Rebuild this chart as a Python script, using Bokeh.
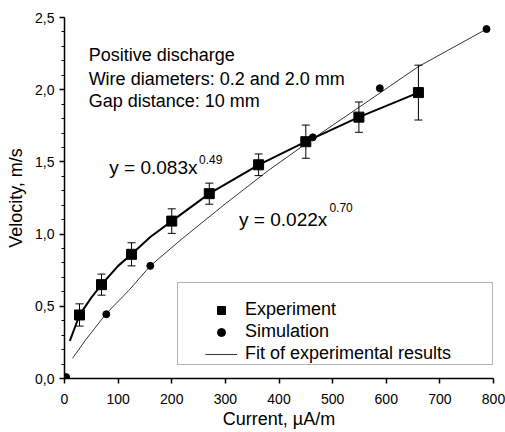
from bokeh.plotting import figure
from bokeh.models import (Range1d, FixedTicker, Label, Legend, LegendItem, Whisker,
                          TeeHead, ColumnDataSource, BoxAnnotation)
from bokeh.embed import file_html
from bokeh.resources import INLINE

# ---- data ----
exp_current = [28, 69, 125, 200, 270, 362, 450, 549, 660]
exp_velocity = [0.44, 0.65, 0.86, 1.09, 1.28, 1.48, 1.64, 1.81, 1.98]
exp_error = [0.077, 0.073, 0.08, 0.085, 0.073, 0.075, 0.115, 0.105, 0.19]

sim_current = [3, 78, 160, 463, 588, 787]
sim_velocity = [0.01, 0.445, 0.78, 1.67, 2.01, 2.42]

# curve through the experiment (y = 0.083x^0.49)
fit_exp_current = [10, 20, 28, 50, 69, 100, 125, 160, 200, 270, 362, 450, 549, 660]
fit_exp_velocity = [0.26, 0.36, 0.44, 0.56, 0.65, 0.78, 0.86, 0.98, 1.09, 1.28, 1.48, 1.64, 1.81, 1.98]

# thin fit line (y = 0.022x^0.70)
fit_thin_current = [15, 40, 78, 120, 160, 220, 300, 380, 463, 550, 660, 787]
fit_thin_velocity = [0.14, 0.27, 0.45, 0.61, 0.78, 0.97, 1.21, 1.44, 1.66, 1.88, 2.16, 2.42]

x_ticks = [0, 100, 200, 300, 400, 500, 600, 700, 800]
y_ticks = [0.0, 0.5, 1.0, 1.5, 2.0, 2.5]
y_tick_labels = ["0,0", "0,5", "1,0", "1,5", "2,0", "2,5"]
y_minor_ticks = [0.0, 0.1, 0.2, 0.3, 0.4, 0.5, 0.6, 0.7, 0.8, 0.9, 1.0, 1.1, 1.2, 1.3,
                 1.4, 1.5, 1.6, 1.7, 1.8, 1.9, 2.0, 2.1, 2.2, 2.3, 2.4, 2.5]

FONT = "Liberation Sans"

p = figure(width=505, height=432, output_backend="svg", toolbar_location=None,
           x_range=Range1d(0, 800), y_range=Range1d(0, 2.5),
           min_border_left=64, min_border_right=12, min_border_top=17, min_border_bottom=54)
p.outline_line_color = None
p.grid.visible = False
p.background_fill_color = "white"
p.border_fill_color = "white"

# axes
p.xaxis.ticker = FixedTicker(ticks=x_ticks)
p.yaxis.ticker = FixedTicker(ticks=y_ticks, minor_ticks=y_minor_ticks)
p.yaxis.major_label_overrides = {v: s for v, s in zip(y_ticks, y_tick_labels)}
p.xaxis.axis_label = "Current, µA/m"
p.yaxis.axis_label = "Velocity, m/s"
for ax in (p.xaxis, p.yaxis):
    ax.axis_line_width = 1.5
    ax.axis_line_color = "black"
    ax.major_tick_line_width = 1.5
    ax.major_tick_line_color = "black"
    ax.major_tick_in = 0
    ax.major_tick_out = 5
    ax.major_label_text_font = FONT
    ax.major_label_text_font_size = "14px"
    ax.major_label_text_color = "black"
    ax.axis_label_text_font = FONT
    ax.axis_label_text_font_size = "18px"
    ax.axis_label_text_font_style = "normal"
    ax.axis_label_text_color = "black"
p.xaxis.minor_tick_line_color = None
p.yaxis.minor_tick_line_color = "black"
p.yaxis.minor_tick_line_width = 1.2
p.yaxis.minor_tick_in = 0
p.yaxis.minor_tick_out = 3
p.xaxis.major_label_standoff = 10
p.xaxis.axis_label_standoff = 2
p.yaxis.major_label_standoff = 5
p.yaxis.axis_label_standoff = 6

# curves
thick = p.line(fit_exp_current, fit_exp_velocity, line_color="black", line_width=2)
thin = p.line(fit_thin_current, fit_thin_velocity, line_color="black", line_width=0.8)

# error bars
src = ColumnDataSource(dict(
    x=exp_current,
    upper=[v + e for v, e in zip(exp_velocity, exp_error)],
    lower=[v - e for v, e in zip(exp_velocity, exp_error)],
))
wh = Whisker(source=src, base="x", upper="upper", lower="lower", line_color="black", line_width=1,
             upper_head=TeeHead(size=8, line_color="black", line_width=1),
             lower_head=TeeHead(size=8, line_color="black", line_width=1))
p.add_layout(wh)

sq = p.scatter(exp_current, exp_velocity, marker="square", size=10, color="black")
ci = p.scatter(sim_current, sim_velocity, marker="circle", size=7, color="black")

# text annotations
for txt, yv in [("Positive discharge", 2.237),
                ("Wire diameters: 0.2 and 2.0 mm", 2.071),
                ("Gap distance: 10 mm", 1.925)]:
    p.add_layout(Label(x=45, y=yv, text=txt, text_font=FONT, text_font_size="18px",
                       text_baseline="alphabetic", text_color="black"))

p.add_layout(Label(x=248, y=1.461, text="y = 0.083x", text_font=FONT, text_font_size="19px",
                   text_align="right", text_baseline="alphabetic", text_color="black"))
p.add_layout(Label(x=251, y=1.517, text="0.49", text_font=FONT, text_font_size="12px",
                   text_align="left", text_baseline="alphabetic", text_color="black"))
p.add_layout(Label(x=490, y=1.101, text="y = 0.022x", text_font=FONT, text_font_size="19px",
                   text_align="right", text_baseline="alphabetic", text_color="black"))
p.add_layout(Label(x=494, y=1.185, text="0.70", text_font=FONT, text_font_size="12px",
                   text_align="left", text_baseline="alphabetic", text_color="black"))

# legend frame
p.add_layout(BoxAnnotation(left=210.7, right=798, bottom=0.097, top=0.665,
                           fill_alpha=0, line_color="black", line_width=1))

legend = Legend(items=[LegendItem(label="Experiment", renderers=[sq]),
                       LegendItem(label="Simulation", renderers=[ci]),
                       LegendItem(label="Fit of experimental results", renderers=[thin])],
                location=(141, 14), padding=8, margin=0, spacing=1,
                glyph_width=32, glyph_height=20, label_height=20, label_standoff=8,
                label_text_font=FONT, label_text_font_size="18px", label_text_color="black",
                border_line_color=None, background_fill_alpha=0)
p.add_layout(legend)

open("out.html", "w").write(file_html(p, INLINE))
